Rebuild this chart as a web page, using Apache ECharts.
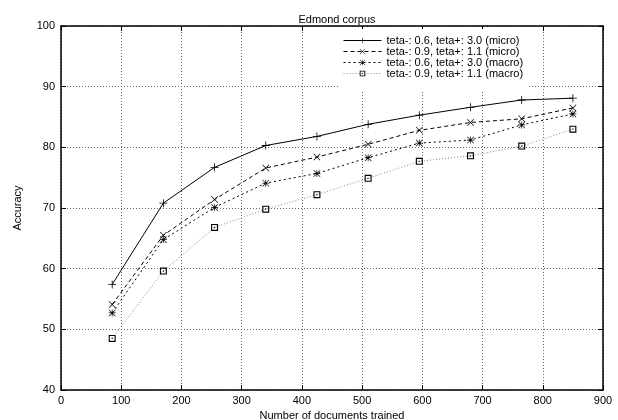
<!DOCTYPE html>
<html><head><meta charset="utf-8">
<script src="https://cdn.jsdelivr.net/npm/echarts@6/dist/echarts.min.js"></script>
<style>html,body{margin:0;padding:0;background:#fff}#c{width:618px;height:420px}</style>
</head><body><div id="c"></div>
<script>
const docs = [85, 170, 255, 340, 425, 510, 595, 680, 765, 850];
const names = [
  'teta-: 0.6, teta+: 3.0 (micro)',
  'teta-: 0.9, teta+: 1.1 (micro)',
  'teta-: 0.6, teta+: 3.0 (macro)',
  'teta-: 0.9, teta+: 1.1 (macro)'
];
const microA = [57.4, 70.8, 76.7, 80.3, 81.8, 83.8, 85.3, 86.6, 87.8, 88.1];
const microB = [54.1, 65.5, 71.4, 76.6, 78.4, 80.5, 82.8, 84.1, 84.7, 86.5];
const macroA = [52.7, 64.8, 70.1, 74.1, 75.7, 78.3, 80.7, 81.2, 83.7, 85.5];
const macroB = [48.5, 59.6, 66.8, 69.8, 72.2, 74.9, 77.7, 78.6, 80.2, 83.0];
const xTicks = [0, 900, 100];
const yTicks = [40, 100, 10];

const plusP = 'path://M4.5,0h1v10h-1z M0,4.5h10v1h-10z';
const crossP = 'path://M0.7,0L10,9.3L9.3,10L0,0.7z M9.3,0L10,0.7L0.7,10L0,9.3z';
const starP = 'path://M4.5,0h1v10h-1z M0,4.5h10v1h-10z M0.7,0L10,9.3L9.3,10L0,0.7z M9.3,0L10,0.7L0.7,10L0,9.3z';
const boxP = 'path://M0,0h10v10h-10z M1.6,1.6v6.8h6.8v-6.8z M4.2,4.2h1.6v1.6h-1.6z';

const zip = a => docs.map((d, i) => [d, a[i]]);
const font = 'Liberation Sans, Arial, sans-serif';

const chart = echarts.init(document.getElementById('c'), null, {renderer: 'canvas'});
function xAx(pos, show) {
  return {type: 'value', position: pos, min: xTicks[0], max: xTicks[1], interval: xTicks[2],
    axisLine: {show: true, onZero: false, lineStyle: {color: '#000', width: 1.5}},
    axisTick: {show: true, inside: true, length: 5, lineStyle: {color: '#000'}},
    axisLabel: {show: show, color: '#000', fontSize: 11, fontFamily: font, margin: 5},
    splitLine: {show: show, lineStyle: {color: '#666', type: [1, 2], width: 1}},
    name: show ? 'Number of documents trained' : '', nameLocation: 'middle', nameGap: 15,
    nameTextStyle: {color: '#000', fontSize: 11, fontFamily: font}};
}
function yAx(pos, show) {
  return {type: 'value', position: pos, min: yTicks[0], max: yTicks[1], interval: yTicks[2],
    axisLine: {show: true, onZero: false, lineStyle: {color: '#000', width: 1.5}},
    axisTick: {show: true, inside: true, length: 5, lineStyle: {color: '#000'}},
    axisLabel: {show: show, color: '#000', fontSize: 11, fontFamily: font, margin: 6},
    splitLine: {show: show, lineStyle: {color: '#666', type: [1, 2], width: 1}},
    name: show ? 'Accuracy' : '', nameLocation: 'middle', nameGap: 38, nameRotate: 90,
    nameTextStyle: {color: '#000', fontSize: 11, fontFamily: font}};
}
function ser(name, data, sym, size, type, color) {
  return {name: name, type: 'line', data: zip(data), symbol: sym, symbolSize: size,
    showSymbol: true, xAxisIndex: 0, yAxisIndex: 0,
    lineStyle: {color: color, width: 1, type: type},
    itemStyle: {color: '#000', borderWidth: 0},
    emphasis: {disabled: true}, animation: false};
}
chart.setOption({
  backgroundColor: '#fff',
  animation: false,
  title: {text: 'Edmond corpus', left: 332, top: 9, textAlign: 'center',
    textStyle: {fontSize: 11, fontWeight: 'normal', color: '#000', fontFamily: font}},
  grid: {left: 61, right: 15, top: 26, bottom: 30, containLabel: false, outerBoundsMode: 'none'},
  legend: {orient: 'vertical', left: 340, top: 29, padding: [6, 6, 13, 3], itemGap: 0,
    itemWidth: 38, itemHeight: 7, backgroundColor: '#fff',
    textStyle: {fontSize: 11, lineHeight: 9, color: '#000', fontFamily: font, padding: [0, 0, 0, 0]},
    lineStyle: {width: 1},
    data: names},
  xAxis: [xAx('bottom', true), xAx('top', false)],
  yAxis: [yAx('left', true), yAx('right', false)],
  series: [
    ser(names[0], microA, plusP, 8, 'solid', '#000'),
    ser(names[1], microB, crossP, 7, [4, 3], '#000'),
    ser(names[2], macroA, starP, 7, [2, 3], '#000'),
    ser(names[3], macroB, boxP, 7, [1, 2], '#888')
  ]
});
</script></body></html>
